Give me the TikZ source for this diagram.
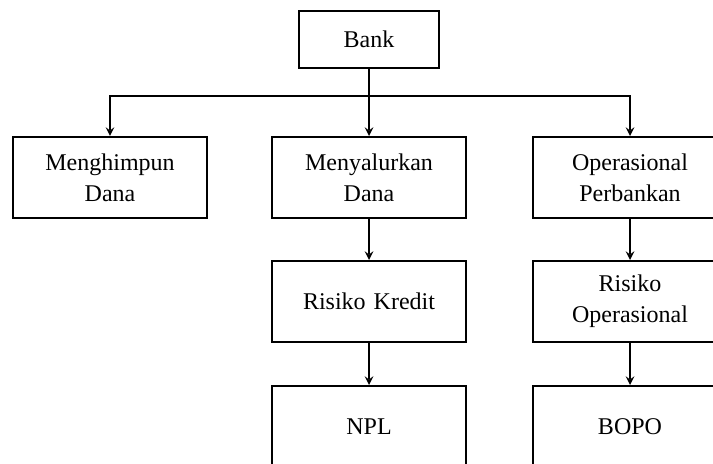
\documentclass[tikz,border=0pt]{standalone}
\usepackage{fontspec}
\setmainfont{Liberation Serif}
\usepackage{tikz}
\usetikzlibrary{shapes.geometric, arrows}
\tikzstyle{unitbox} = [rectangle, minimum width=96pt, minimum height=40.5pt, text width=90pt, align=center, draw=black, line width=1pt]
\tikzstyle{bankbox} = [rectangle, minimum width=70pt, minimum height=28.5pt, align=center, draw=black, line width=1pt]
\tikzstyle{arrow} = [line width=0.9pt,->,>=stealth]

\begin{document}
\begin{tikzpicture}[node distance=62pt, font=\fontsize{12pt}{15.5pt}\selectfont]
    \useasboundingbox (0,0) rectangle (356.5pt,-232pt);
    \node (Bank) [bankbox] at (184.5pt,-19.75pt) {Bank};
    \node (Menyalurkan) [unitbox, below of = Bank, node distance=69pt] {Menyalurkan\\Dana};
    \node (Menghimpun) [unitbox, left of = Menyalurkan, node distance=129.5pt] {Menghimpun\\Dana};
    \node (Operasional) [unitbox, right of = Menyalurkan, node distance=130.5pt] {Operasional\\Perbankan};
    \node (RisikoKredit) [unitbox, below of = Menyalurkan] {Risiko Kredit};
    \node (RisikoOps) [unitbox, below of = Operasional] {Risiko\\Operasional};
    \node (NPL) [unitbox, below of = RisikoKredit, node distance=62.5pt] {NPL};
    \node (BOPO) [unitbox, below of = RisikoOps, node distance=62.5pt] {BOPO};
    \coordinate (Spine) at ([yshift=-13.5pt]Bank.south);
    \draw [arrow] (Bank) -- (Menyalurkan);
    \draw [arrow] (Spine) -| (Menghimpun);
    \draw [arrow] (Spine) -| (Operasional);
    \draw [arrow] (Menyalurkan) -- (RisikoKredit);
    \draw [arrow] (Operasional) -- (RisikoOps);
    \draw [arrow] (RisikoKredit) -- (NPL);
    \draw [arrow] (RisikoOps) -- (BOPO);
\end{tikzpicture}
\end{document}
